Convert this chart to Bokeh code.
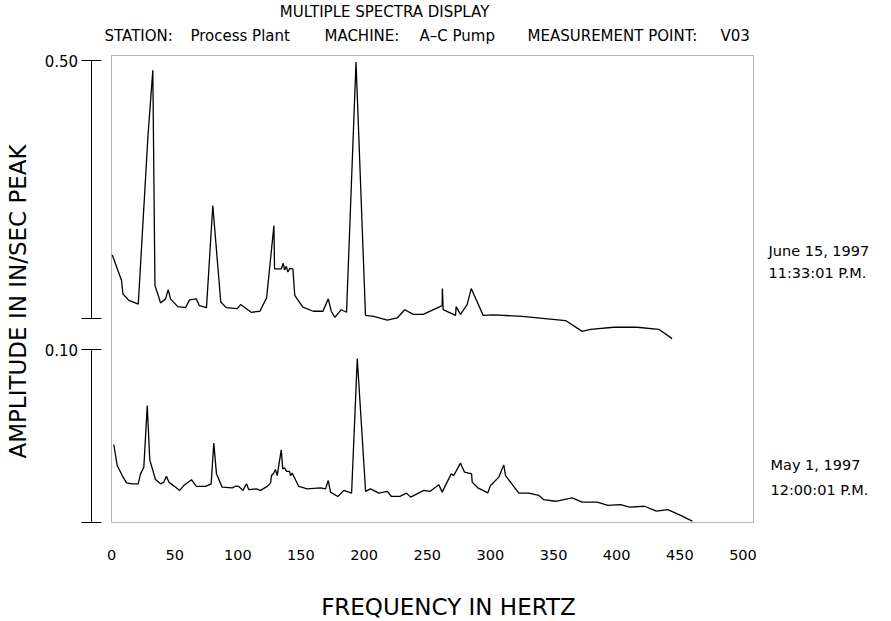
import math
from bokeh.plotting import figure
from bokeh.models import Range1d, LinearAxis, FixedTicker, Label, BoxAnnotation
from bokeh.embed import file_html
from bokeh.resources import INLINE

# ---------------- data ----------------
title_text = "MULTIPLE SPECTRA DISPLAY"
header_parts = ["STATION:", "Process Plant", "MACHINE:", "A\u2013C Pump", "MEASUREMENT POINT:", "V03"]
x_ticks = [0, 50, 100, 150, 200, 250, 300, 350, 400, 450, 500]
x_label = "FREQUENCY IN HERTZ"
y_label = "AMPLITUDE IN IN/SEC PEAK"
upper_ticks = [0, 0.5]
upper_tick_labels = {0: "", 0.5: "0.50"}
lower_ticks = [0, 0.1]
lower_tick_labels = {0: "", 0.1: "0.10"}

june_date = ["June 15, 1997", "11:33:01 P.M."]
may_date = ["May 1, 1997", "12:00:01 P.M."]

# June 15, 1997 spectrum (upper trace): frequency (Hz), amplitude (in/sec peak)
june_freq = [0.6, 7.9, 9.0, 13.7, 21.2, 28.8, 32.7, 34.4, 37.5, 38.8,
             42.8, 44.9, 46.7, 52.5, 58.6, 61.8, 67.1, 69.5, 75.2, 80.2,
             86.5, 90.8, 99.6, 102.2, 110.6, 117.5, 122.8, 128.6, 129.1, 134.4,
             136.0, 137.0, 138.4, 139.6, 141.2, 143.6, 145.1, 151.5, 159.7, 167.4,
             171.6, 174.0, 176.9, 181.9, 186.1, 193.6, 201.1, 207.7, 218.3, 226.2,
             232.2, 238.9, 246.8, 261.8, 262.0, 262.6, 272.4, 272.9, 276.3, 281.6,
             284.8, 294.3, 302.7, 325.2, 359.5, 372.7, 379.3, 397.7, 416.2, 433.3,
             443.9]
june_amp = [0.124, 0.075, 0.049, 0.036, 0.029, 0.352, 0.482, 0.065, 0.042, 0.031,
            0.039, 0.057, 0.039, 0.024, 0.022, 0.037, 0.039, 0.026, 0.022, 0.220,
            0.033, 0.022, 0.020, 0.028, 0.013, 0.015, 0.041, 0.181, 0.097, 0.097,
            0.108, 0.095, 0.102, 0.091, 0.098, 0.097, 0.046, 0.023, 0.015, 0.015,
            0.039, 0.015, 0.003, 0.018, 0.013, 0.498, 0.007, 0.005, -0.002, 0.002,
            0.018, 0.009, 0.009, 0.026, 0.059, 0.018, 0.007, 0.024, 0.009, 0.028,
            0.059, 0.007, 0.008, 0.005, -0.003, -0.024, -0.020, -0.016, -0.016, -0.020,
            -0.038]

# May 1, 1997 spectrum (lower trace)
may_freq = [1.8, 4.5, 8.5, 11.9, 16.4, 21.1, 23.0, 25.6, 28.3, 30.3,
            34.8, 38.8, 41.4, 43.5, 45.4, 54.1, 57.2, 63.3, 67.1, 74.4,
            78.9, 81.0, 83.1, 87.6, 95.6, 98.2, 100.8, 104.0, 106.9, 108.7,
            114.6, 118.0, 123.3, 125.9, 126.7, 128.3, 129.8, 131.2, 134.4, 135.6,
            137.0, 138.6, 140.9, 141.8, 143.1, 144.4, 148.3, 155.0, 165.5, 169.5,
            171.6, 173.4, 179.2, 184.0, 190.1, 194.6, 201.2, 205.1, 211.7, 218.3,
            221.5, 228.3, 233.6, 236.8, 247.3, 252.1, 259.2, 261.8, 269.0, 271.0,
            276.3, 279.5, 285.1, 285.6, 290.0, 298.0, 300.1, 306.7, 310.6, 312.0,
            322.5, 330.4, 338.4, 342.3, 351.6, 364.8, 372.7, 384.6, 393.0, 403.0,
            410.4, 422.0, 431.5, 440.5, 450.6, 459.9]
may_amp = [0.0452, 0.0330, 0.0272, 0.0230, 0.0224, 0.0224, 0.0282, 0.0321, 0.0678, 0.0363,
           0.0249, 0.0224, 0.0234, 0.0268, 0.0234, 0.0186, 0.0214, 0.0248, 0.0209, 0.0209,
           0.0224, 0.0460, 0.0282, 0.0205, 0.0201, 0.0210, 0.0209, 0.0186, 0.0224, 0.0190,
           0.0195, 0.0186, 0.0209, 0.0228, 0.0272, 0.0284, 0.0307, 0.0272, 0.0421, 0.0311,
           0.0317, 0.0296, 0.0296, 0.0272, 0.0286, 0.0267, 0.0209, 0.0195, 0.0201, 0.0195,
           0.0243, 0.0176, 0.0151, 0.0186, 0.0170, 0.0951, 0.0180, 0.0195, 0.0170, 0.0181,
           0.0152, 0.0151, 0.0170, 0.0147, 0.0186, 0.0180, 0.0219, 0.0176, 0.0282, 0.0272,
           0.0344, 0.0292, 0.0282, 0.0234, 0.0201, 0.0172, 0.0214, 0.0263, 0.0334, 0.0272,
           0.0170, 0.0170, 0.0157, 0.0132, 0.0123, 0.0143, 0.0118, 0.0118, 0.0099, 0.0103,
           0.0089, 0.0094, 0.0066, 0.0075, 0.0041, 0.0008]

# ---------------- figure ----------------
FONT = "DejaVu Sans"

# plot area spans the whole canvas; the drawn box marks the spectra region
X0, X1 = -87.9, 617.6            # frequency axis (Hz) across the canvas
UP0, UP1 = -0.5862, 0.6172       # upper-trace amplitude scale across the canvas
LO0, LO1 = -0.0574, 0.3026       # lower-trace amplitude scale across the canvas
BOX = dict(left=0, right=508.3, bottom=-0.3944, top=0.5107)

p = figure(width=891, height=621, output_backend="svg", toolbar_location=None,
           x_range=Range1d(X0, X1), y_range=Range1d(UP0, UP1),
           y_axis_location=None, title_location=None, min_border=0,
           min_border_left=0, min_border_right=0, min_border_top=0, min_border_bottom=0)
p.extra_y_ranges = {"lower": Range1d(LO0, LO1)}
p.grid.visible = False
p.outline_line_color = None
p.background_fill_color = "white"
p.border_fill_color = "white"

p.add_layout(BoxAnnotation(fill_color=None, fill_alpha=0, line_color="black",
                           line_width=1.0, **BOX))

xa = p.xaxis[0]
xa.fixed_location = BOX["bottom"]
xa.ticker = FixedTicker(ticks=x_ticks)
xa.axis_line_color = None
xa.major_tick_line_color = None
xa.minor_tick_line_color = None
xa.major_tick_out = 0
xa.major_tick_in = 0
xa.major_label_standoff = 27
xa.major_label_text_font = FONT
xa.major_label_text_font_size = "14.5px"
xa.major_label_text_color = "black"

AXIS_X = -16.2  # horizontal position of the scale bars (Hz units, left of box)


def style_axis(ax):
    ax.major_tick_in = 10
    ax.major_tick_out = 10
    ax.major_tick_line_color = "black"
    ax.minor_tick_line_color = None
    ax.axis_line_color = "black"
    ax.axis_line_width = 1
    ax.major_label_standoff = 3
    ax.major_label_text_font = FONT
    ax.major_label_text_font_size = "15px"
    ax.major_label_text_color = "black"


ya_u = LinearAxis(fixed_location=AXIS_X, bounds=(upper_ticks[0], upper_ticks[-1]),
                  ticker=FixedTicker(ticks=upper_ticks),
                  major_label_overrides=upper_tick_labels)
ya_l = LinearAxis(y_range_name="lower", fixed_location=AXIS_X,
                  bounds=(lower_ticks[0], lower_ticks[-1]),
                  ticker=FixedTicker(ticks=lower_ticks),
                  major_label_overrides=lower_tick_labels)
style_axis(ya_u)
style_axis(ya_l)
p.add_layout(ya_u, "left")
p.add_layout(ya_l, "left")

p.line(june_freq, june_amp, line_color="black", line_width=1.3)
p.line(may_freq, may_amp, y_range_name="lower", line_color="black", line_width=1.3)


def lab(x, y, text, size="14px", align="left", angle=0.0):
    p.add_layout(Label(x=x, y=y, text=text, text_font=FONT, text_font_size=size,
                       text_align=align, text_baseline="middle", text_color="black",
                       angle=angle))


# titles
lab(216.2, 0.594, title_text, size="15px", align="center")
for txt, hx in zip(header_parts, [-5.5, 62.5, 168.6, 243.9, 329.4, 482.2]):
    lab(hx, 0.5475, txt, size="15px")

# axis titles
lab(-74.4, 0.034, y_label, size="23px", align="center", angle=math.pi / 2)
lab(266.8, -0.559, x_label, size="23px", align="center")

# date / time annotations
lab(520.2, 0.131, june_date[0], size="14.5px")
lab(520.2, 0.090, june_date[1], size="14.5px")
lab(521.8, -0.282, may_date[0], size="14.5px")
lab(521.8, -0.332, may_date[1], size="14.5px")

open("out.html", "w").write(file_html(p, INLINE))
